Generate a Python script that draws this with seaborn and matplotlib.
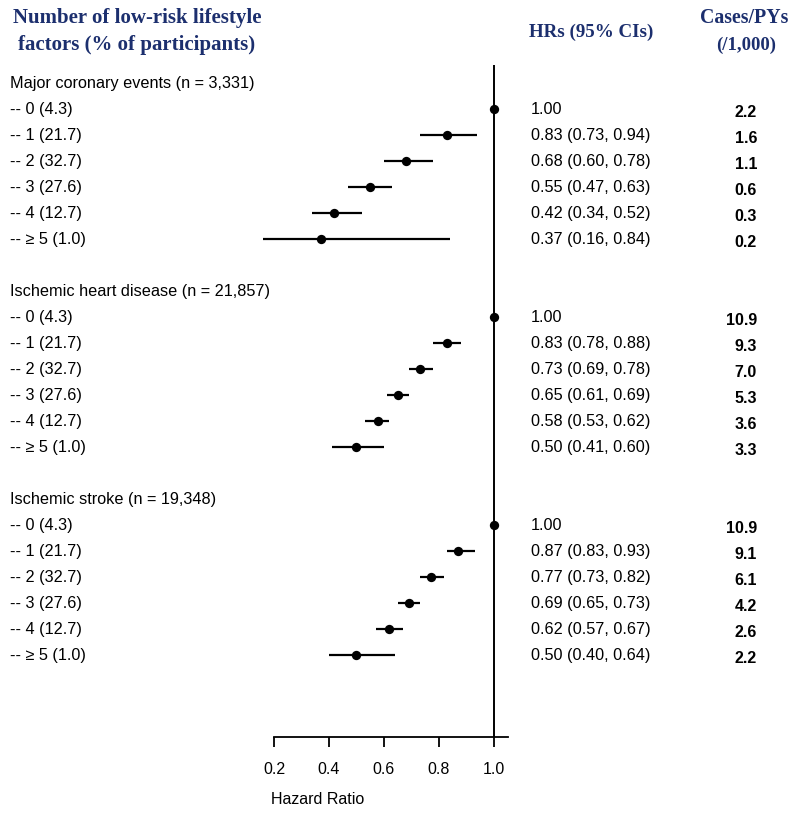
import numpy as np
import pandas as pd
import matplotlib
matplotlib.use("Agg")
import matplotlib.pyplot as plt
import matplotlib.transforms as mtransforms
import seaborn as sns

# data
groups = ["Major coronary events (n = 3,331)",
          "Ischemic heart disease (n = 21,857)",
          "Ischemic stroke (n = 19,348)"]
levels = ["-- 0 (4.3)", "-- 1 (21.7)", "-- 2 (32.7)", "-- 3 (27.6)", "-- 4 (12.7)", "-- \u2265 5 (1.0)"]

hr_mce = [1.00, 0.83, 0.68, 0.55, 0.42, 0.37]
lo_mce = [np.nan, 0.73, 0.60, 0.47, 0.34, 0.16]
hi_mce = [np.nan, 0.94, 0.78, 0.63, 0.52, 0.84]
cases_mce = ["2.2", "1.6", "1.1", "0.6", "0.3", "0.2"]

hr_ihd = [1.00, 0.83, 0.73, 0.65, 0.58, 0.50]
lo_ihd = [np.nan, 0.78, 0.69, 0.61, 0.53, 0.41]
hi_ihd = [np.nan, 0.88, 0.78, 0.69, 0.62, 0.60]
cases_ihd = ["10.9", "9.3", "7.0", "5.3", "3.6", "3.3"]

hr_is = [1.00, 0.87, 0.77, 0.69, 0.62, 0.50]
lo_is = [np.nan, 0.83, 0.73, 0.65, 0.57, 0.40]
hi_is = [np.nan, 0.93, 0.82, 0.73, 0.67, 0.64]
cases_is = ["10.9", "9.1", "6.1", "4.2", "2.6", "2.2"]

xticks = [0.2, 0.4, 0.6, 0.8, 1.0]


def build_rows():
    rows = []
    pos = 0
    for g, hr, lo, hi, cs in zip(groups,
                                 [hr_mce, hr_ihd, hr_is],
                                 [lo_mce, lo_ihd, lo_is],
                                 [hi_mce, hi_ihd, hi_is],
                                 [cases_mce, cases_ihd, cases_is]):
        rows.append(dict(label=g, y=pos, hr=np.nan, lo=np.nan, hi=np.nan, txt="", cases=""))
        pos += 1
        for lab, h, l, u, c in zip(levels, hr, lo, hi, cs):
            txt = "%.2f" % h if np.isnan(l) else "%.2f (%.2f, %.2f)" % (h, l, u)
            rows.append(dict(label=lab, y=pos, hr=h, lo=l, hi=u, txt=txt, cases=c))
            pos += 1
        pos += 1
    return pd.DataFrame(rows)


df = build_rows()

sns.set_theme(style="white")
plt.rcParams["font.family"] = ["Liberation Sans", "DejaVu Sans"]
plt.rcParams["text.color"] = "black"
plt.rcParams["xtick.color"] = "black"

fig = plt.figure(figsize=(8, 8.18), dpi=100)
ax = fig.add_axes([230 / 800, 1 - 737 / 818, 280 / 800, (737 - 65) / 818])

pts = df.dropna(subset=["hr"])
ci = pts.dropna(subset=["lo"])
ax.hlines(ci["y"], ci["lo"], ci["hi"], color="black", lw=1.6)
sns.scatterplot(data=pts, x="hr", y="y", ax=ax, color="black", s=45,
                marker="o", edgecolor="black", linewidth=0, zorder=3)
ax.axvline(1.0, color="black", lw=1.4)

ax.set_xlim(0.04, 1.0582)
ax.set_ylim(25.15, -0.7)
ax.set_yticks([])
ax.set_ylabel("")
for s in ["left", "top", "right"]:
    ax.spines[s].set_visible(False)
ax.spines["bottom"].set_color("black")
ax.spines["bottom"].set_linewidth(1.3)
ax.spines["bottom"].set_bounds(0.2, 1.05)
ax.set_xticks(xticks)
ax.set_xticklabels(["%.1f" % t for t in xticks], fontsize=11.5)
ax.tick_params(axis="x", direction="out", length=7, width=1.3, color="black", bottom=True, pad=11)
ax.set_xlabel("")
fig.text(318 / 800, 1 - 799 / 818, "Hazard Ratio", ha="center", va="center", fontsize=11.5)

tr = mtransforms.blended_transform_factory(fig.transFigure, ax.transData)
for _, r in df.iterrows():
    ax.text(10 / 800, r["y"], r["label"], transform=tr, ha="left", va="center", fontsize=11.7, clip_on=False)
    if r["txt"]:
        ax.text(531 / 800, r["y"], r["txt"], transform=tr, ha="left", va="center", fontsize=11.7, clip_on=False)
        ax.text(757 / 800, r["y"] + 0.12, r["cases"], transform=tr, ha="right", va="center",
                fontsize=11.5, fontweight="bold", clip_on=False)

navy = "#1c2f6e"
hdr = dict(family=["Liberation Serif", "DejaVu Serif"], fontweight="bold", color=navy, ha="center", va="center")
fig.text(137 / 800, 1 - 18 / 818, "Number of low-risk lifestyle", fontsize=15, **hdr)
fig.text(137 / 800, 1 - 45 / 818, "factors (% of participants)", fontsize=15, **hdr)
fig.text(591 / 800, 1 - 32 / 818, "HRs (95% CIs)", fontsize=13.7, **hdr)
fig.text(744 / 800, 1 - 18 / 818, "Cases/PYs", fontsize=14.3, **hdr)
fig.text(746 / 800, 1 - 45 / 818, "(/1,000)", fontsize=13.5, **hdr)

fig.savefig("out.png", dpi=100)
